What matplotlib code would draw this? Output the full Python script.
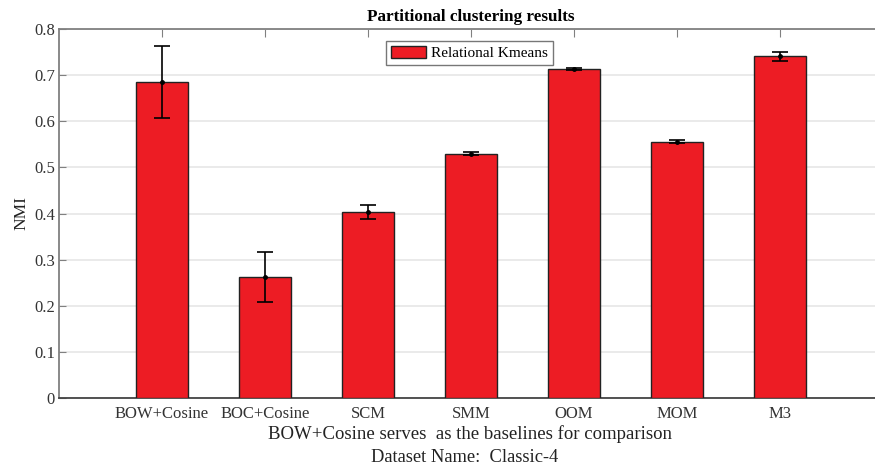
import matplotlib
matplotlib.use("Agg")
import matplotlib.pyplot as plt
import numpy as np

categories = ["BOW+Cosine", "BOC+Cosine", "SCM", "SMM", "OOM", "MOM", "M3"]
nmi = [0.686, 0.263, 0.403, 0.530, 0.713, 0.556, 0.741]
err = [0.078, 0.054, 0.015, 0.004, 0.002, 0.003, 0.010]
yticks = [0, 0.1, 0.2, 0.3, 0.4, 0.5, 0.6, 0.7, 0.8]

plt.rcParams['font.family'] = ['Liberation Serif', 'DejaVu Serif']

fig = plt.figure(figsize=(8.75, 4.68), dpi=100)
ax = fig.add_axes([59/875, 1-398/468, (883-59)/875, (398-29)/468])

x = np.arange(1, len(categories)+1)
ax.bar(x, nmi, width=0.5, color='#ED1C24', edgecolor='#222222', linewidth=1.0,
       label='Relational Kmeans', zorder=3)
ax.errorbar(x, nmi, yerr=err, fmt='o', color='black', ecolor='black', markersize=2.5,
            capsize=6, elinewidth=1.2, capthick=1.2, zorder=4)

ax.set_xlim(0, 8)
ax.set_ylim(0, 0.8)
ax.set_yticks(yticks)
ax.set_yticklabels(['0' if v == 0 else f'{v:.1f}' for v in yticks], fontsize=12, color='#333333')
ax.set_xticks(x)
ax.set_xticklabels(categories, fontsize=12, color='#333333')
ax.tick_params(axis='x', direction='in', top=True, bottom=False, length=6, color='#808080', pad=6)
ax.tick_params(axis='y', direction='in', right=True, length=5, color='#808080', pad=3)
ax.yaxis.grid(True, color='#e6e6e6', linewidth=1.2, zorder=0)
ax.set_axisbelow(True)
for s in ax.spines.values():
    s.set_color('#808080')
    s.set_linewidth(1.3)
ax.spines['bottom'].set_color('#444444')

ax.set_ylabel('NMI', fontsize=12.5, labelpad=3, color='#222222')
ax.set_title('Partitional clustering results', fontsize=12.3, fontweight='bold', pad=6)

fig.text(470/875, 1-434/468, 'BOW+Cosine serves  as the baselines for comparison',
         ha='center', va='center', fontsize=13.5, color='#222222')
fig.text(465/875, 1-458/468, 'Dataset Name:  Classic-4', ha='center', va='center',
         fontsize=13.3, color='#222222')

leg = ax.legend(loc='upper left', bbox_to_anchor=(386/875, 1-41/468), bbox_transform=fig.transFigure,
                fontsize=11, frameon=True, fancybox=False, borderpad=0.3, handlelength=2.35,
                handleheight=0.9, handletextpad=0.3, borderaxespad=0)
leg.get_frame().set_edgecolor('#555555')
leg.get_frame().set_linewidth(1.0)

fig.savefig('out.png', dpi=100)
